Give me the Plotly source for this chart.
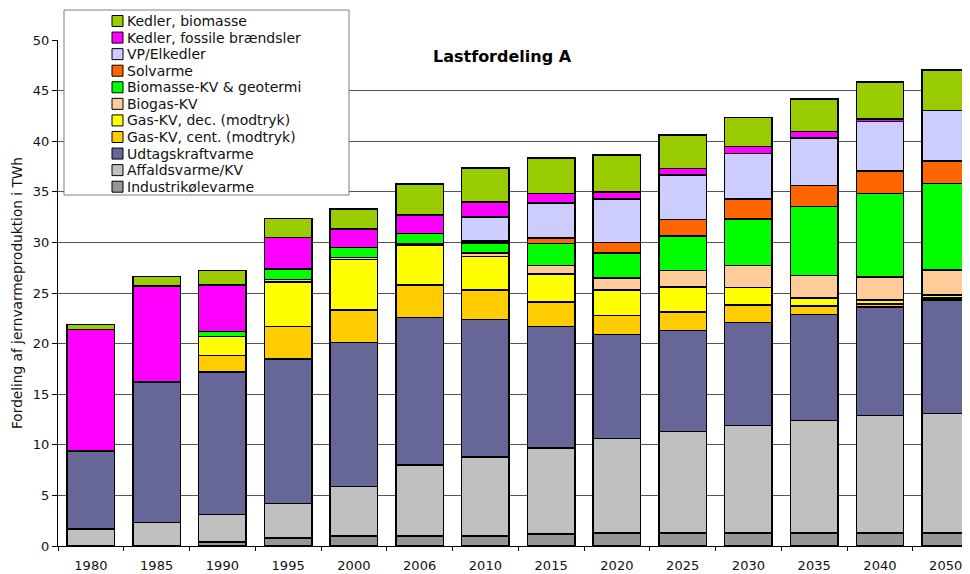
import plotly.graph_objects as go

years = ['1980', '1985', '1990', '1995', '2000', '2006', '2010',
         '2015', '2020', '2025', '2030', '2035', '2040', '2050']

industri    = [None, None, 0.4, 0.8, 1.0, 1.0, 1.0, 1.2, 1.3, 1.3, 1.3, 1.3, 1.3, 1.3]
affald      = [1.7, 2.3, 2.7, 3.4, 4.9, 7.0, 7.8, 8.5, 9.3, 10.0, 10.6, 11.1, 11.6, 11.8]
udtag       = [7.7, 13.9, 14.1, 14.3, 14.2, 14.6, 13.6, 12.0, 10.3, 10.0, 10.2, 10.5, 10.7, 11.2]
gas_cent    = [None, None, 1.6, 3.2, 3.2, 3.2, 2.9, 2.4, 1.9, 1.8, 1.7, 0.8, 0.3, 0.2]
gas_dec     = [None, None, 1.9, 4.4, 5.0, 3.9, 3.3, 2.8, 2.5, 2.5, 1.75, 0.8, 0.4, 0.3]
biogas      = [None, None, None, 0.25, 0.2, 0.15, 0.35, 0.8, 1.2, 1.6, 2.15, 2.25, 2.3, 2.45]
biomasse_kv = [None, None, 0.5, 1.0, 1.0, 1.05, 1.0, 2.2, 2.45, 3.45, 4.6, 6.8, 8.25, 8.55]
solvarme    = [None, None, None, None, None, None, 0.2, 0.55, 1.05, 1.6, 2.0, 2.05, 2.2, 2.25]
vp_elkedler = [None, None, None, None, None, None, 2.35, 3.45, 4.3, 4.4, 4.5, 4.7, 4.9, 5.0]
kedler_fos  = [12.0, 9.5, 4.6, 3.15, 1.8, 1.8, 1.5, 0.95, 0.7, 0.65, 0.7, 0.65, 0.25, None]
kedler_bio  = [0.5, 0.95, 1.4, 1.85, 2.0, 3.05, 3.35, 3.5, 3.65, 3.3, 2.85, 3.2, 3.65, 4.0]

series_names = ['Industrikølevarme', 'Affaldsvarme/KV', 'Udtagskraftvarme',
                'Gas-KV, cent. (modtryk)', 'Gas-KV, dec. (modtryk)', 'Biogas-KV',
                'Biomasse-KV & geotermi', 'Solvarme', 'VP/Elkedler',
                'Kedler, fossile brændsler', 'Kedler, biomasse']
series_values = [industri, affald, udtag, gas_cent, gas_dec, biogas,
                 biomasse_kv, solvarme, vp_elkedler, kedler_fos, kedler_bio]
series_colors = ['#969696', '#C0C0C0', '#666699', '#FFCC00', '#FFFF00', '#FFCC99',
                 '#00FF00', '#FF6600', '#CCCCFF', '#FF00FF', '#99CC00']

title_text = 'Lastfordeling A'
y_title = 'Fordeling af jernvarmeproduktion i TWh'

FONT = 'DejaVu Sans'
TXT = '#111111'

fig = go.Figure()
for name, vals, col in zip(series_names, series_values, series_colors):
    fig.add_trace(go.Bar(
        x=years, y=vals, name=name, showlegend=False,
        marker=dict(color=col, line=dict(color='black', width=1.5)),
    ))

# page offset (default body margin of the html page)
OFF = 8
W, H = 962, 566
ML, MR, MT, MB = 50, 0, 32, 28
PW, PH = W - ML - MR, H - MT - MB


def px(x):
    return (x - OFF - ML) / PW


def py(y):
    return (H - MB - (y - OFF)) / PH


# legend box (layout decoration; entries built from the series lists)
shapes = [dict(
    type='rect', xref='paper', yref='paper',
    x0=px(64), x1=px(349), y0=py(195), y1=py(10),
    line=dict(color='#808080', width=1), fillcolor='white', layer='above',
)]
annotations = [dict(
    text='<b>' + title_text + '</b>', xref='paper', yref='paper',
    x=px(502), y=py(56), xanchor='center', yanchor='middle', showarrow=False,
    font=dict(family=FONT, size=16, color='black'),
)]

ROW0, ROWSTEP, SW = 21.0, 16.57, 11
for i, (name, col) in enumerate(zip(series_names[::-1], series_colors[::-1])):
    cy = ROW0 + i * ROWSTEP
    shapes.append(dict(
        type='rect', xref='paper', yref='paper',
        x0=px(112), x1=px(112 + SW), y0=py(cy + SW / 2), y1=py(cy - SW / 2),
        line=dict(color='black', width=1), fillcolor=col, layer='above',
    ))
    annotations.append(dict(
        text=name, xref='paper', yref='paper',
        x=px(125), y=py(cy), xanchor='left', yanchor='middle', showarrow=False,
        font=dict(family=FONT, size=14, color=TXT),
    ))

fig.update_layout(
    width=W, height=H,
    margin=dict(l=ML, r=MR, t=MT, b=MB, pad=0),
    barmode='stack', bargap=0.28,
    paper_bgcolor='white', plot_bgcolor='white',
    font=dict(family=FONT, color=TXT),
    showlegend=False,
    xaxis=dict(
        type='category', range=[-0.5, 13.37],
        showline=True, linecolor='black', linewidth=1,
        ticks='outside', tickson='boundaries', ticklen=4, tickcolor='black',
        ticklabelstandoff=7,
        tickfont=dict(family=FONT, size=13, color=TXT),
        showgrid=False, automargin=False,
    ),
    yaxis=dict(
        range=[0, 50], dtick=5, tick0=0,
        showline=True, linecolor='black', linewidth=1,
        ticks='outside', ticklen=5, tickcolor='black',
        tickfont=dict(family=FONT, size=13, color=TXT),
        showgrid=True, gridcolor='#555555', gridwidth=1,
        zeroline=False, automargin=False,
        title=dict(text=y_title, font=dict(family=FONT, size=13.7, color=TXT),
                   standoff=7),
    ),
    shapes=shapes,
    annotations=annotations,
)

fig.write_html('out.html')
